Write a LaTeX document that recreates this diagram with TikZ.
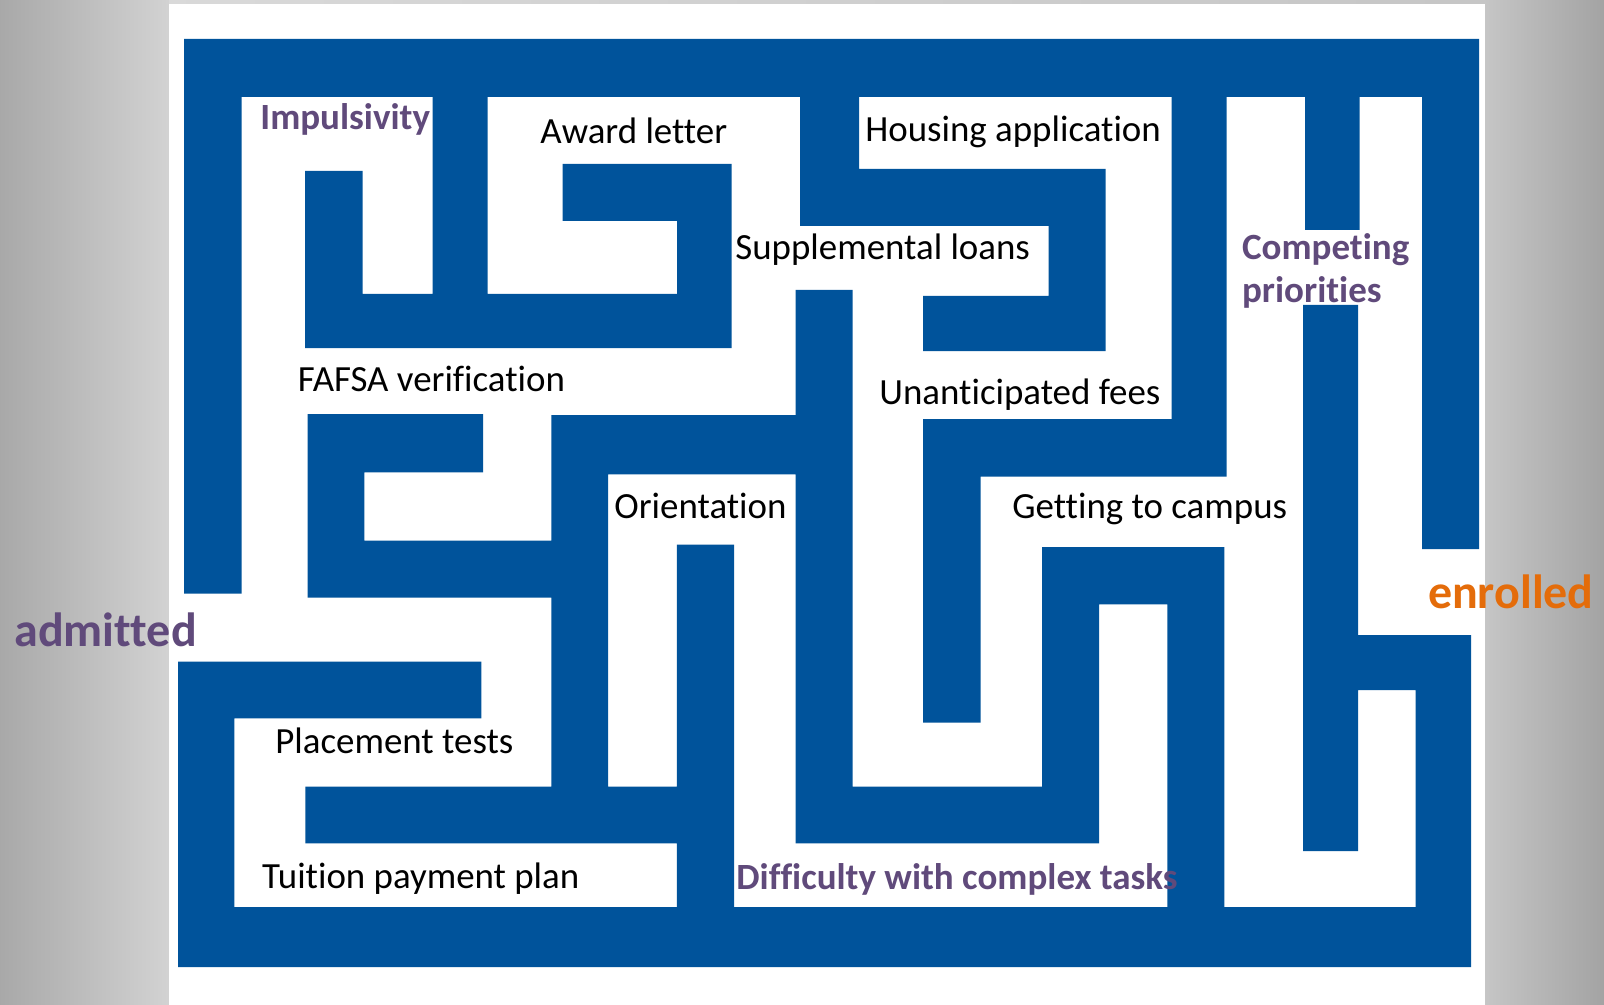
\documentclass[tikz,border=0pt]{standalone}
\usepackage{fontspec}
\setmainfont{Carlito}[Ligatures=NoCommon]
\definecolor{mazeblue}{RGB}{0,83,155}
\definecolor{mazepurple}{RGB}{96,74,123}
\definecolor{mazeorange}{RGB}{228,108,10}
\begin{document}
\begin{tikzpicture}[x=0.5pt,y=-0.5pt]
        \tikzstyle{wall} = [fill=mazeblue, draw=none]
        \tikzstyle{task} = [anchor=base west, inner sep=0pt, font=\fontsize{18.45}{22}\selectfont]
        \tikzstyle{barrier} = [task, text=mazepurple, font=\fontsize{18.5}{21.8}\selectfont\bfseries]
        \tikzstyle{goal} = [anchor=base west, inner sep=0pt, font=\fontsize{24}{28}\selectfont\bfseries]

                \useasboundingbox (0,0) rectangle (1604,1005);
                \shade[left color=gray!68, right color=gray!35] (0,0) rectangle (169,1005);
                \shade[left color=gray!45, right color=gray!72] (1485,0) rectangle (1604,1005);
                \shade[left color=gray!30, right color=gray!45] (169,0) rectangle (1485,4);
                \fill[white] (169,4) rectangle (1485,1005);

                \fill[wall] (184,39) rectangle (1479,97)
                        (184,39) rectangle (241.5,593.5)
                        (1422,39) rectangle (1479,549)
                        (432.7,39) rectangle (487.7,348)
                        (305,171) rectangle (362.7,348)
                        (305,294) rectangle (731.7,348)
                        (562.7,164) rectangle (731.7,221)
                        (677,164) rectangle (731.7,348)
                        (800,39) rectangle (859,226)
                        (800,169) rectangle (1105.7,226)
                        (1048.7,169) rectangle (1105.7,351)
                        (923,296) rectangle (1105.7,351)
                        (1171.7,39) rectangle (1226.7,476.7)
                        (1305,39) rectangle (1359.5,230)
                        (1303,305) rectangle (1358,851)
                        (923,419) rectangle (1226.7,476.7)
                        (923,419) rectangle (980.5,722.7)
                        (795.7,290) rectangle (852.7,843.3)
                        (795.7,786.7) rectangle (1099,843.3)
                        (1042,547) rectangle (1099,843.3)
                        (1042,547) rectangle (1224.3,604.3)
                        (1167.3,547) rectangle (1224.3,967)
                        (178,907) rectangle (1471,967)
                        (1415.7,635) rectangle (1471,967)
                        (1358,635) rectangle (1471,690)
                        (178,661.7) rectangle (234.3,967)
                        (178,661.7) rectangle (481.4,718.3)
                        (307.5,414) rectangle (483,472.3)
                        (307.5,414) rectangle (364.3,597.7)
                        (307.5,540.7) rectangle (552,597.7)
                        (551.4,415) rectangle (608.2,843.3)
                        (551.4,415) rectangle (796,474.3)
                        (676.8,544.7) rectangle (734,967)
                        (305.4,786.7) rectangle (734,843.3);

                \node (impulsivity) [barrier] at (260,130) {Impulsivity};
                \node (award) [task] at (540,143.3) {Award letter};
                \node (housing) [task] at (865,141.7) {Housing application};
                \node (loans) [task] at (735,260) {Supplemental loans};
                \node (competing) [barrier, align=left] at (1241.7,303) {Competing\\priorities};
                \node (fafsa) [task] at (297.5,391.7) {FAFSA verification};
                \node (fees) [task] at (879,404) {Unanticipated fees};
                \node (orientation) [task] at (614,518.3) {Orientation};
                \node (campus) [task] at (1012,518) {Getting to campus};
                \node (placement) [task] at (275,753.3) {Placement tests};
                \node (tuition) [task] at (261.8,888.3) {Tuition payment plan};
                \node (complex) [barrier] at (736,889.3) {Difficulty with complex tasks};
                \node (admitted) [goal, text=mazepurple] at (14,646.7) {admitted};
                \node (enrolled) [goal, text=mazeorange] at (1427.6,608.3) {enrolled};

    \end{tikzpicture}
\end{document}
